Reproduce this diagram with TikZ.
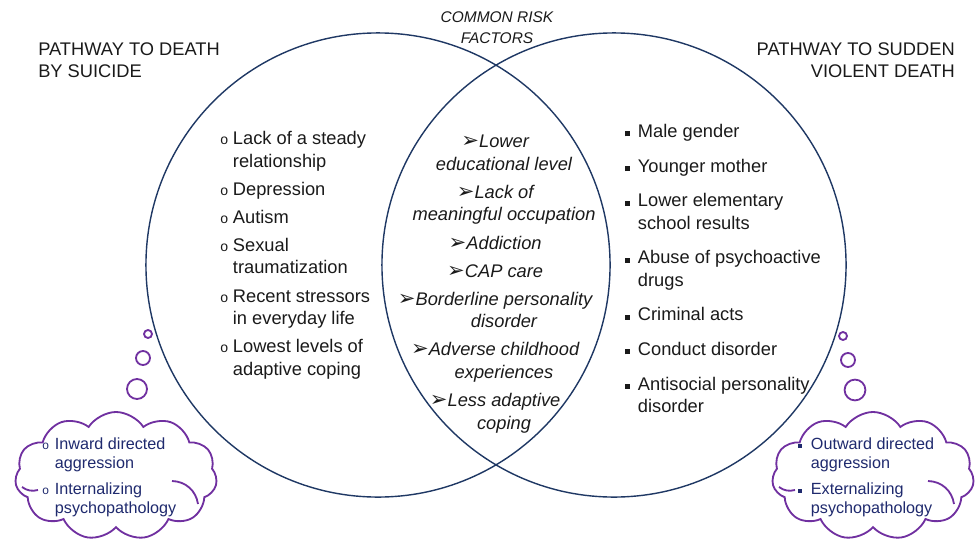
\documentclass[tikz,border=0pt]{standalone}
\usepackage{fontspec}
\setmainfont{Liberation Sans}
\newfontfamily\dejavu{DejaVu Sans}
\usetikzlibrary{shapes.symbols}
\definecolor{venn}{HTML}{1F3864}
\definecolor{thought}{HTML}{7030A0}
\definecolor{cloudtxt}{HTML}{1F2A6E}
\definecolor{txt}{HTML}{1A1A1A}
\newcommand{\circbul}{\makebox[9pt][l]{\fontsize{10}{10}\selectfont o}}
\newcommand{\squarebul}{\makebox[9pt][l]{\rule[0.8pt]{3.5pt}{3.5pt}}}
\newcommand{\arrowbul}{\llap{\upshape\dejavu\fontsize{15}{15}\selectfont ➢}}
\newcommand{\contind}{\hspace*{9pt}}
\newcommand{\smallcircbul}{\makebox[9pt][l]{\fontsize{8.5}{8.5}\selectfont o}}
\newcommand{\smallsquarebul}{\makebox[9pt][l]{\rule[1pt]{2.8pt}{2.8pt}}}

\begin{document}
\begin{tikzpicture}[x=0.025cm, y=-0.025cm,
  venncircle/.style={draw=venn, line width=1pt},
  puff/.style={draw=thought, line width=1.3pt},
  thoughtcloud/.style={cloud, puff, fill=white, cloud puffs=11, cloud puff arc=115,
    minimum width=5.05cm, minimum height=3.2cm, inner sep=0pt},
  listtxt/.style={inner sep=0pt, text=txt, font=\fontsize{13}{16}\selectfont},
  commontxt/.style={listtxt, font=\fontsize{13}{16}\selectfont\itshape},
  cloudlist/.style={inner sep=0pt, text=cloudtxt, align=left, font=\fontsize{11.5}{13.8}\selectfont},
  head/.style={inner sep=0pt, text=txt, font=\fontsize{13}{16.3}\selectfont}]
\useasboundingbox (0,0) rectangle (977,539);

\draw[venncircle] (378,265) circle[radius=5.8cm];
\draw[venncircle] (614,265) circle[radius=5.8cm];

\node[head, align=left, anchor=north west] (suicidehead) at (38,42) {PATHWAY TO DEATH\\BY SUICIDE};
\node[head, align=right, anchor=north east] (violenthead) at (955,42) {PATHWAY TO SUDDEN\\VIOLENT DEATH};
\node[inner sep=0pt, text=txt, align=center, anchor=north, font=\fontsize{11}{15}\selectfont\itshape] (commonhead) at (497,11) {COMMON RISK\\FACTORS};

\node[listtxt, align=left, anchor=north west] (suicidelist) at (220,131) {%
\circbul Lack of a steady\\ \contind relationship\\[4pt]
\circbul Depression\\[4pt]
\circbul Autism\\[4pt]
\circbul Sexual\\ \contind traumatization\\[4pt]
\circbul Recent stressors\\ \contind in everyday life\\[4pt]
\circbul Lowest levels of\\ \contind adaptive coping};

\node[commontxt, align=center, anchor=north] (commonlist) at (504,135) {%
\arrowbul Lower\\ educational level\\[4pt]
\arrowbul Lack of\\ meaningful occupation\\[4pt]
\arrowbul Addiction\\[4pt]
\arrowbul CAP care\\[4pt]
\arrowbul Borderline personality\\ disorder\\[4pt]
\arrowbul Adverse childhood\\ experiences\\[4pt]
\arrowbul Less adaptive\\ coping};

\node[listtxt, align=left, anchor=north west] (violentlist) at (625,124) {%
\squarebul Male gender\\[8.6pt]
\squarebul Younger mother\\[8.6pt]
\squarebul Lower elementary\\ \contind school results\\[8.6pt]
\squarebul Abuse of psychoactive\\ \contind drugs\\[8.6pt]
\squarebul Criminal acts\\[8.6pt]
\squarebul Conduct disorder\\[8.6pt]
\squarebul Antisocial personality\\ \contind disorder};

\draw[puff] (148,334) circle[radius=0.1cm];
\draw[puff] (143,358) circle[radius=0.175cm];
\draw[puff] (137,389) circle[radius=0.25cm];
\draw[puff] (843,336) circle[radius=0.1cm];
\draw[puff] (848,360) circle[radius=0.175cm];
\draw[puff] (855,390) circle[radius=0.26cm];

\node[thoughtcloud] (inwardcloud) at (116,476) {};
\node[thoughtcloud] (outwardcloud) at (873,476) {};
\draw[puff] (22,487) to[bend right=25] (38,490);
\draw[puff] (172,481) to[bend left=40] (198,504);
\draw[puff] (779,487) to[bend right=25] (795,490);
\draw[puff] (928,481) to[bend left=40] (954,504);

\node[cloudlist, anchor=north west] (inwardtxt) at (42,437) {%
\smallcircbul Inward directed\\ \contind aggression\\[4.6pt]
\smallcircbul Internalizing\\ \contind psychopathology};
\node[cloudlist, anchor=north west] (outwardtxt) at (798,437) {%
\smallsquarebul Outward directed\\ \contind aggression\\[4.6pt]
\smallsquarebul Externalizing\\ \contind psychopathology};
\end{tikzpicture}
\end{document}
